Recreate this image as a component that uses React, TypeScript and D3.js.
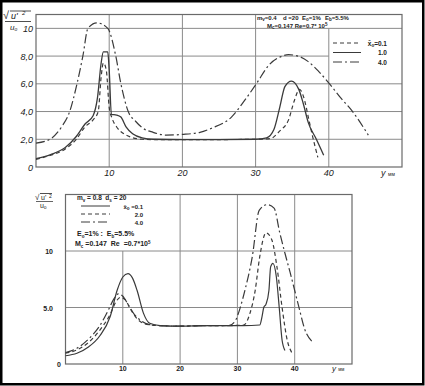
import React from 'react';
import * as d3 from 'd3';

// ---------- Top panel data ----------
const topXTicks = [10, 20, 30, 40];
const topYTicks = [0, 2, 4, 6, 8, 10];
const topYLabels = ['0', '2,0', '4,0', '6,0', '8,0', '10'];

// x̄0 = 0.1 (dashed)
const topDashX = [0, 2, 4, 5.5, 6.7, 7.8, 8.5, 8.9, 9.2, 9.6, 10.0, 10.4, 11.0, 12.0, 13.0, 14.5, 16, 20, 25, 30, 32, 33.3, 34.5, 35.3, 36.0, 36.7, 37.2, 37.7, 38.5];
const topDashY = [0.55, 0.85, 1.3, 2.0, 2.9, 3.4, 4.0, 6.5, 7.5, 7.0, 4.3, 3.5, 2.9, 2.4, 2.15, 2.0, 1.98, 1.98, 1.98, 2.0, 2.05, 2.6, 3.4, 4.8, 5.6, 4.8, 3.6, 2.4, 0.7];
// x̄0 = 1.0 (solid)
const topSolidX = [0, 2, 4, 5.5, 6.7, 7.8, 8.4, 8.9, 9.2, 9.8, 10.0, 10.3, 11.0, 11.6, 12.3, 13.2, 14.5, 16, 20, 25, 30, 31.5, 32.5, 33.3, 34.0, 34.9, 35.9, 36.5, 37.2, 38.3, 39.3];
const topSolidY = [0.6, 0.9, 1.4, 2.2, 3.1, 3.7, 5.0, 7.5, 8.3, 8.3, 7.0, 3.8, 3.75, 3.6, 2.9, 2.4, 2.1, 2.0, 1.98, 1.98, 2.0, 2.1, 2.7, 4.3, 5.8, 6.2, 5.6, 4.6, 3.2, 2.0, 0.85];
// x̄0 = 4.0 (dash-dot)
const topDotX = [0, 1.9, 3.5, 4.6, 5.6, 6.4, 7.1, 8.3, 9.8, 10.9, 11.6, 12.6, 13.6, 14.6, 16, 17.8, 20, 22.4, 24, 26.7, 28.5, 30.1, 31.9, 33.2, 34.5, 35.8, 37.2, 38.6, 40.1, 41.6, 43.1, 45.4];
const topDotY = [1.72, 2.0, 2.9, 4.0, 6.0, 8.0, 10.0, 10.4, 10.0, 8.0, 6.0, 4.0, 3.3, 2.8, 2.5, 2.3, 2.35, 2.5, 2.8, 3.6, 4.8, 6.0, 7.4, 7.9, 8.1, 8.0, 7.6, 6.9, 6.0, 5.0, 4.1, 2.3];

// ---------- Bottom panel data ----------
const botXTicks = [10, 20, 30, 40];
const botYTicks = [0, 5, 10];
const botYLabels = ['0', '5.0', '10'];

// x̄0 = 0.1 (solid)
const botSolidX = [0, 2, 4, 6, 7.8, 9.0, 10.0, 10.9, 11.7, 12.5, 13.6, 14.7, 16.5, 20, 25, 28.5, 31, 33.9, 34.3, 34.6, 35.0, 35.5, 35.8, 36.2, 36.8, 37.3, 37.8, 38.3];
const botSolidY = [0.73, 0.95, 1.5, 2.5, 4.2, 6.5, 7.7, 8.0, 7.6, 6.5, 4.5, 3.6, 3.4, 3.35, 3.4, 3.4, 3.4, 3.45, 4.2, 5.0, 5.3, 6.5, 8.6, 8.9, 7.7, 5.0, 2.1, 1.2];
// x̄0 = 2.0 (dashed)
const botDashX = [0, 2, 4, 6, 7.8, 8.8, 9.6, 10.4, 11.4, 12.5, 13.6, 15, 16.5, 20, 25, 28.5, 31.1, 32.2, 33.1, 33.9, 35.0, 36.0, 36.9, 37.8, 38.7, 39.5];
const botDashY = [0.95, 1.25, 1.9, 3.0, 4.4, 5.5, 5.9, 5.7, 4.8, 4.0, 3.6, 3.45, 3.4, 3.35, 3.4, 3.4, 3.45, 4.5, 6.5, 9.5, 11.6, 11.0, 8.6, 5.0, 2.1, 1.0];
// x̄0 = 4.0 (dash-dot)
const botDotX = [0, 2, 4, 6, 7.5, 8.5, 9.2, 10.0, 11.0, 12.0, 13.0, 14.5, 16.5, 20, 25, 28.5, 29.6, 30.5, 31.3, 32.6, 33.8, 35.2, 36.4, 37.4, 38.3, 39.2, 40.7, 41.8, 43.0];
const botDotY = [1.0, 1.4, 2.2, 3.4, 4.8, 5.8, 6.2, 6.0, 5.2, 4.4, 3.9, 3.5, 3.4, 3.35, 3.4, 3.4, 3.8, 5.0, 6.5, 9.5, 13.6, 14.1, 13.8, 11.6, 9.8, 8.1, 5.1, 3.0, 2.0];

const GRID = '#8a8a8a';
const FRAME = '#6a6a6a';
const CURVE = '#3a3a3a';
const DASH = '4,3';
const DASHDOT = '9,3,2,3';

function zip(xs: number[], ys: number[]): [number, number][] {
  return xs.map((x, i) => [x, ys[i]]);
}

const SUB = 4.5;

export default function App() {
  const tx = d3.scaleLinear().domain([0, 50]).range([36, 402]);
  const ty = d3.scaleLinear().domain([0, 11]).range([167, 14.5]);
  const bx = d3.scaleLinear().domain([0, 50]).range([65.5, 352]);
  const by = d3.scaleLinear().domain([0, 15]).range([364, 194.5]);

  const topLine = d3.line<[number, number]>().x(d => tx(d[0])).y(d => ty(d[1])).curve(d3.curveMonotoneX);
  const botLine = d3.line<[number, number]>().x(d => bx(d[0])).y(d => by(d[1])).curve(d3.curveMonotoneX);

  const topFont = { fontFamily: '"Liberation Sans", Arial, sans-serif', fontStyle: 'italic' as const };
  const botFont = { fontFamily: '"Liberation Sans", Arial, sans-serif', fontWeight: 700 as const, style: { whiteSpace: 'pre' as const } };

  return (
    <svg width={425} height={386} style={{ position: 'absolute', left: 0, top: 0, background: '#fff' }}>
      <rect x={0} y={0} width={425} height={386} fill="#fff" />

      {/* ================= TOP PANEL ================= */}
      <g>
        {[2, 4, 6, 10].map(v => (
          <line key={'th' + v} x1={tx(0)} x2={tx(50)} y1={ty(v)} y2={ty(v)} stroke={GRID} strokeWidth={1} />
        ))}
        <line x1={tx(0)} x2={tx(40)} y1={ty(8)} y2={ty(8)} stroke={GRID} strokeWidth={1} />
        {[10, 20, 30].map(v => (
          <line key={'tv' + v} x1={tx(v)} x2={tx(v)} y1={ty(0)} y2={ty(11)} stroke={GRID} strokeWidth={1} />
        ))}
        <line x1={tx(40)} x2={tx(40)} y1={ty(0)} y2={ty(10)} stroke={GRID} strokeWidth={1} />
        <rect x={tx(0)} y={ty(11)} width={tx(50) - tx(0)} height={ty(0) - ty(11)} fill="none" stroke={FRAME} strokeWidth={1.2} />

        <path d={topLine(zip(topDashX, topDashY)) || ''} fill="none" stroke={CURVE} strokeWidth={1.2} strokeDasharray={DASH} />
        <path d={topLine(zip(topSolidX, topSolidY)) || ''} fill="none" stroke={CURVE} strokeWidth={1.3} />
        <path d={topLine(zip(topDotX, topDotY)) || ''} fill="none" stroke={CURVE} strokeWidth={1.2} strokeDasharray={DASHDOT} />

        {topYTicks.map((v, i) => (
          <text key={'tyl' + v} x={33} y={ty(v) + 3.5} textAnchor="end" fontSize={9} {...topFont} fill="#222">{topYLabels[i]}</text>
        ))}
        {topXTicks.map(v => (
          <text key={'txl' + v} x={tx(v)} y={176} textAnchor="middle" fontSize={9} {...topFont} fill="#222">{v}</text>
        ))}
        <text x={381} y={176} fontSize={9} {...topFont} fill="#222">y <tspan fontSize={5} fontStyle="normal">мм</tspan></text>

        {/* y axis title */}
        <text x={3} y={19} fontSize={11} {...topFont} fill="#222">√</text>
        <line x1={10} x2={31} y1={11} y2={11} stroke="#222" strokeWidth={0.8} />
        <text x={11} y={19} fontSize={9} {...topFont} fill="#222">u'</text>
        <text x={22} y={15} fontSize={6} {...topFont} fill="#222">2</text>
        <line x1={5} x2={31} y1={21.5} y2={21.5} stroke="#222" strokeWidth={0.8} />
        <text x={10} y={30} fontSize={8} {...topFont} fill="#222">u<tspan fontSize={5} dy={1}>o</tspan></text>

        {/* header */}
        <text x={257} y={20} fontSize={6} {...botFont} fill="#222">m<tspan fontSize={SUB} dy={1}>v</tspan><tspan dy={-1}>=0.4</tspan></text>
        <text x={283} y={20} fontSize={6} {...botFont} fill="#222">d =20</text>
        <text x={302} y={20} fontSize={6} {...botFont} fill="#222">E<tspan fontSize={SUB} dy={1}>o</tspan><tspan dy={-1}>=1%</tspan></text>
        <text x={325} y={20} fontSize={6} {...botFont} fill="#222">E<tspan fontSize={SUB} dy={1}>b</tspan><tspan dy={-1}>=5.5%</tspan></text>
        <text x={267} y={27.5} fontSize={6} {...botFont} fill="#222">M<tspan fontSize={SUB} dy={1}>c</tspan><tspan dy={-1}>=0.147 Re=0.7* 10</tspan><tspan fontSize={SUB} dy={-2}>5</tspan></text>

        {/* legend */}
        <line x1={333} x2={361} y1={43} y2={43} stroke={CURVE} strokeWidth={1} strokeDasharray={DASH} />
        <line x1={333} x2={361} y1={52.5} y2={52.5} stroke={CURVE} strokeWidth={1} />
        <line x1={333} x2={361} y1={62} y2={62} stroke={CURVE} strokeWidth={1} strokeDasharray={DASHDOT} />
        <text x={387} y={45.5} textAnchor="end" fontSize={6.5} {...botFont} fill="#222">x̄<tspan fontSize={SUB} dy={1.5}>o</tspan><tspan dy={-1.5}>=0.1</tspan></text>
        <text x={387} y={55} textAnchor="end" fontSize={6.5} {...botFont} fill="#222">1.0</text>
        <text x={387} y={64.5} textAnchor="end" fontSize={6.5} {...botFont} fill="#222">4.0</text>
      </g>

      {/* ================= BOTTOM PANEL ================= */}
      <g>
        {[5, 10].map(v => (
          <line key={'bh' + v} x1={bx(0)} x2={bx(50)} y1={by(v)} y2={by(v)} stroke={GRID} strokeWidth={1} />
        ))}
        <line x1={bx(10)} x2={bx(10)} y1={by(0)} y2={by(10)} stroke={GRID} strokeWidth={1} />
        {[20, 30, 40].map(v => (
          <line key={'bv' + v} x1={bx(v)} x2={bx(v)} y1={by(0)} y2={by(15)} stroke={GRID} strokeWidth={1} />
        ))}
        <rect x={bx(0)} y={by(15)} width={bx(50) - bx(0)} height={by(0) - by(15)} fill="none" stroke={FRAME} strokeWidth={1.2} />

        <path d={botLine(zip(botSolidX, botSolidY)) || ''} fill="none" stroke={CURVE} strokeWidth={1.2} />
        <path d={botLine(zip(botDashX, botDashY)) || ''} fill="none" stroke={CURVE} strokeWidth={1.2} strokeDasharray={DASH} />
        <path d={botLine(zip(botDotX, botDotY)) || ''} fill="none" stroke={CURVE} strokeWidth={1.2} strokeDasharray={DASHDOT} />

        {botYTicks.map((v, i) => (
          <text key={'byl' + v} x={i === 0 ? 61 : 53} y={by(v) + 3} textAnchor="end" fontSize={7} {...botFont} fill="#222">{botYLabels[i]}</text>
        ))}
        {botXTicks.map(v => (
          <text key={'bxl' + v} x={bx(v)} y={371} textAnchor="middle" fontSize={7} {...botFont} fill="#222">{v}</text>
        ))}
        <text x={332} y={371} fontSize={8} {...topFont} fill="#222">y <tspan fontSize={4.5} fontStyle="normal">мм</tspan></text>

        {/* y axis title */}
        <text x={35} y={200} fontSize={8} fontFamily='"Liberation Sans", Arial, sans-serif' fill="#222">√</text>
        <line x1={40} x2={52} y1={193.5} y2={193.5} stroke="#222" strokeWidth={0.8} />
        <text x={41} y={200} fontSize={7} fontFamily='"Liberation Sans", Arial, sans-serif' fill="#222">u'</text>
        <text x={49} y={198} fontSize={5} fontFamily='"Liberation Sans", Arial, sans-serif' fill="#222">2</text>
        <line x1={36} x2={53} y1={201.5} y2={201.5} stroke="#222" strokeWidth={0.7} />
        <text x={40} y={208} fontSize={7} fontFamily='"Liberation Sans", Arial, sans-serif' fill="#222">u<tspan fontSize={4.5} dy={1}>o</tspan></text>

        {/* legend */}
        <text x={77} y={200} fontSize={6.5} {...botFont} fill="#222">m<tspan fontSize={SUB} dy={1.5}>v</tspan><tspan dy={-1.5}> = 0.8  d</tspan><tspan fontSize={SUB} dy={1.5}>s</tspan><tspan dy={-1.5}> = 20</tspan></text>
        <line x1={81} x2={110} y1={206} y2={206} stroke={CURVE} strokeWidth={1} />
        <line x1={81} x2={110} y1={214} y2={214} stroke={CURVE} strokeWidth={1} strokeDasharray={DASH} />
        <line x1={81} x2={110} y1={222} y2={222} stroke={CURVE} strokeWidth={1} strokeDasharray={DASHDOT} />
        <text x={143} y={208.5} textAnchor="end" fontSize={6} {...botFont} fill="#222">x̄<tspan fontSize={SUB} dy={1.5}>o</tspan><tspan dy={-1.5}> =0.1</tspan></text>
        <text x={143} y={216.5} textAnchor="end" fontSize={6} {...botFont} fill="#222">2.0</text>
        <text x={143} y={224.5} textAnchor="end" fontSize={6} {...botFont} fill="#222">4.0</text>
        <text x={77} y={236} fontSize={7} {...botFont} fill="#222">E<tspan fontSize={SUB} dy={1.5}>o</tspan><tspan dy={-1.5}>=1% :  E</tspan><tspan fontSize={SUB} dy={1.5}>b</tspan><tspan dy={-1.5}>=5.5%</tspan></text>
        <text x={75} y={246} fontSize={7} {...botFont} fill="#222">M<tspan fontSize={SUB} dy={1.5}>c</tspan><tspan dy={-1.5}> =0.147  Re  =0.7*10</tspan><tspan fontSize={SUB} dy={-2.5}>5</tspan></text>
      </g>

      <rect x={1.25} y={1.25} width={422} height={383} fill="none" stroke="#000" strokeWidth={2.5} />
    </svg>
  );
}
